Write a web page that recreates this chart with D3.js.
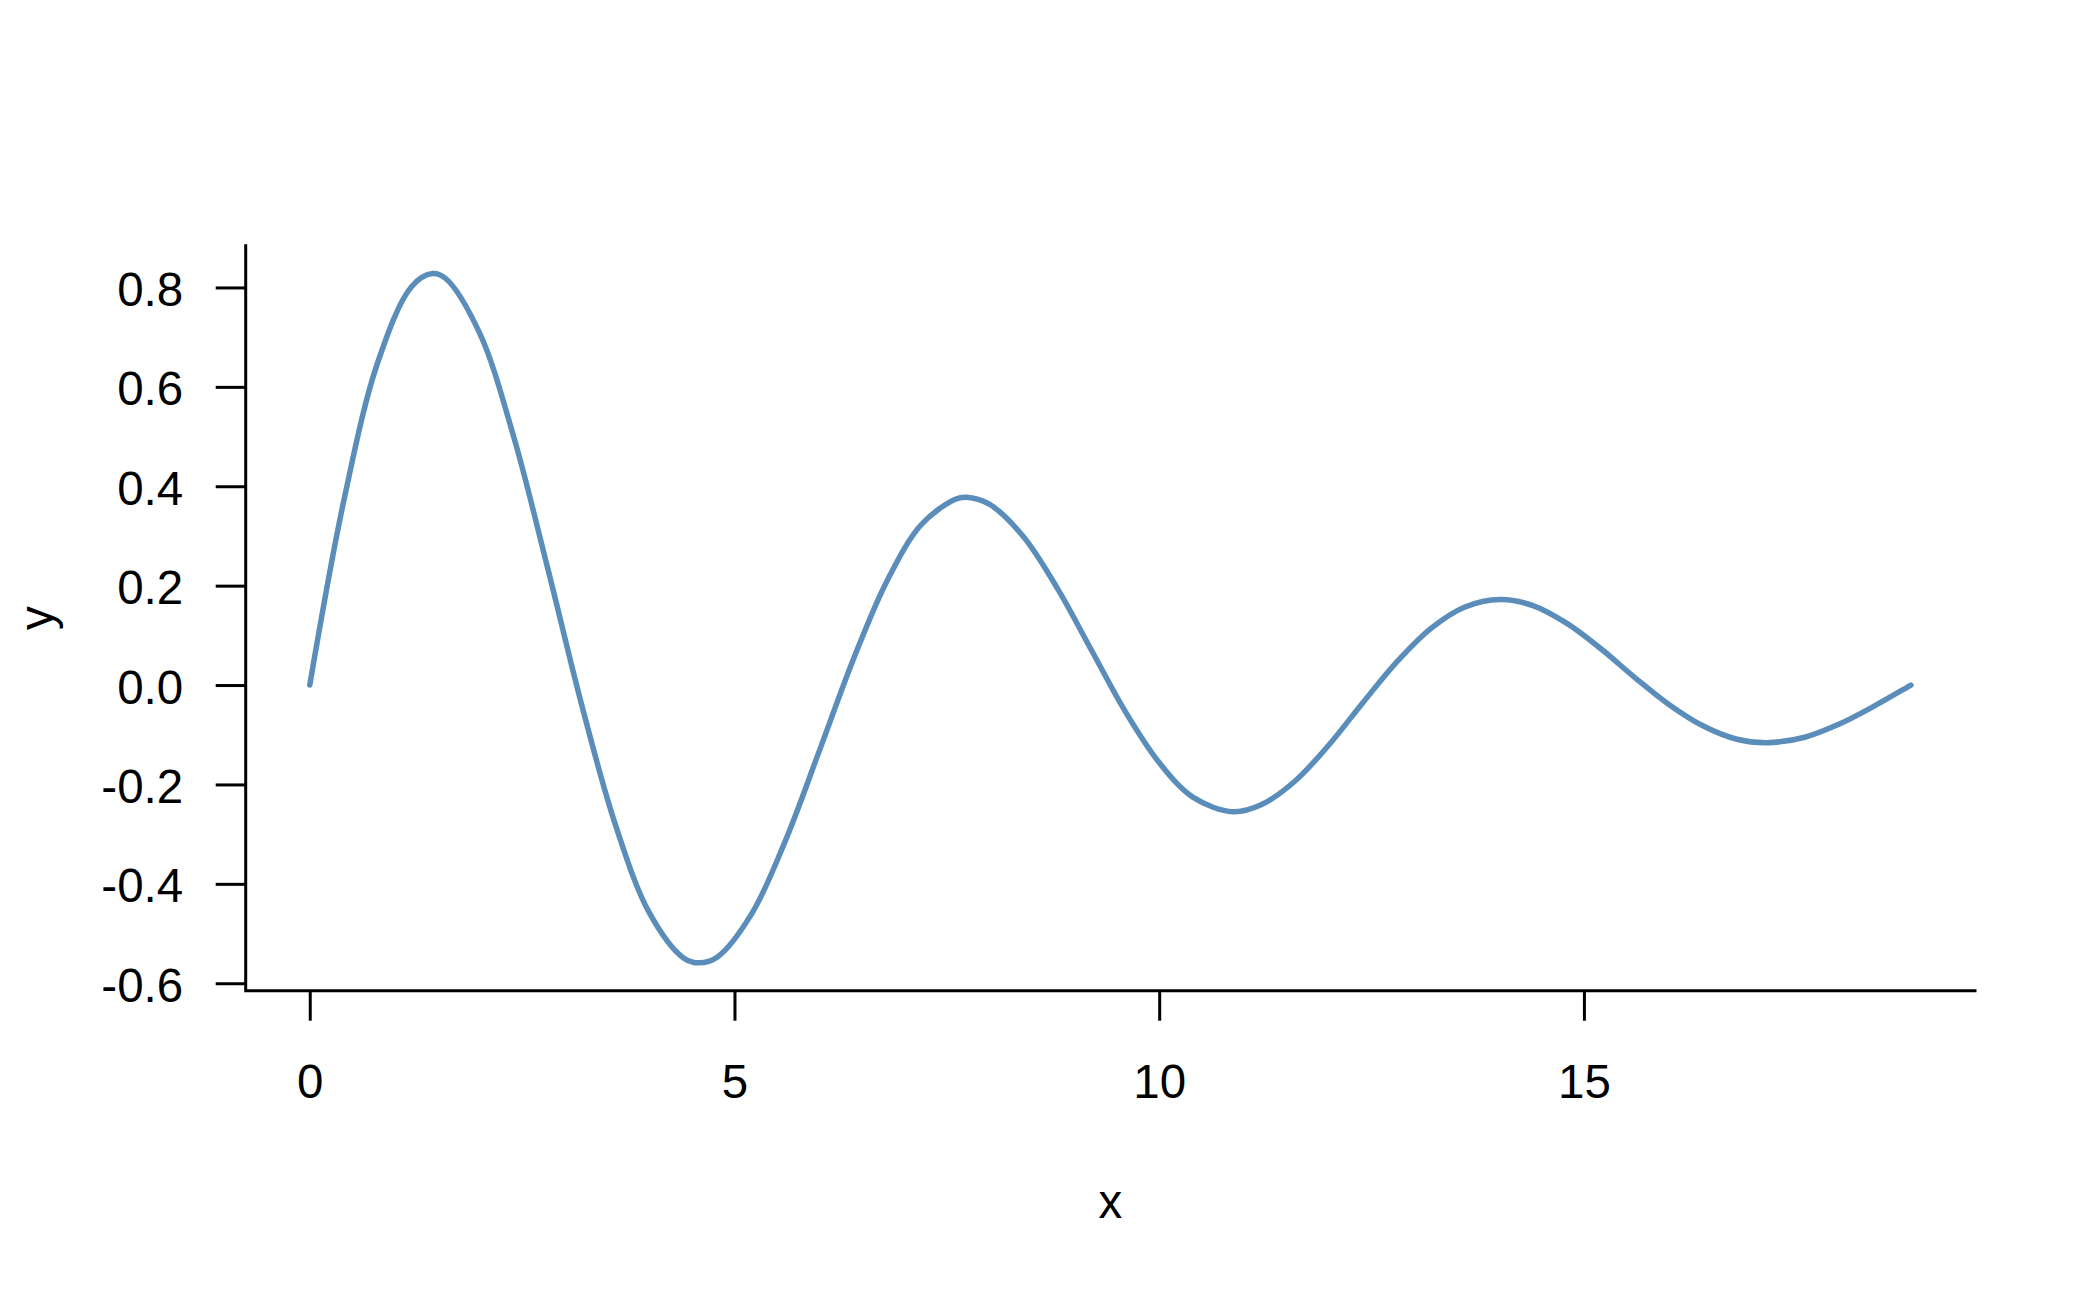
<!DOCTYPE html>
<html>
<head>
<meta charset="utf-8">
<script src="https://cdn.jsdelivr.net/npm/d3@7"></script>
<style>
  html, body { margin: 0; padding: 0; background: #ffffff; }
  svg { display: block; }
  text { font-family: "Liberation Sans", Arial, sans-serif; fill: #000; }
</style>
</head>
<body>
<svg id="chart" width="2100" height="1297"></svg>
<script>
// ---- data ----
const xValues = [0, 0.4, 0.8, 1.2, 1.446, 1.6, 2.0, 2.4, 2.8, 3.2, 3.6, 4.0, 4.4, 4.588, 4.8, 5.2, 5.6, 6.0,
  6.4, 6.8, 7.2, 7.6, 7.73, 8.0, 8.4, 8.8, 9.2, 9.6, 10.0, 10.4, 10.871, 11.2, 11.6, 12.0, 12.4,
  12.8, 13.2, 13.6, 14.013, 14.4, 14.8, 15.2, 15.6, 16.0, 16.4, 16.8, 17.155, 17.6, 18.0, 18.4, 18.8, 18.85];
const yValues = [0, 0.370, 0.649, 0.802, 0.828, 0.818, 0.708, 0.500, 0.236, -0.039, -0.282, -0.459, -0.549, -0.559, -0.547, -0.461, -0.313, -0.132,
  0.052, 0.211, 0.323, 0.374, 0.378, 0.364, 0.299, 0.195, 0.071, -0.053, -0.156, -0.226, -0.255, -0.241, -0.193, -0.120, -0.035,
  0.047, 0.114, 0.157, 0.172, 0.160, 0.124, 0.073, 0.015, -0.039, -0.082, -0.109, -0.116, -0.105, -0.079, -0.044, -0.005, 0];
const xTicks = [0, 5, 10, 15];
const yTicks = [-0.6, -0.4, -0.2, 0.0, 0.2, 0.4, 0.6, 0.8];
const xDomain = [-0.754, 19.604];
const yDomain = [-0.615, 0.884];
const xLabel = "x";
const yLabel = "y";

// ---- layout ----
const plot = { left: 245.7, right: 1975, top: 245.7, bottom: 990.7 };
const fontSize = 47.5;
const lineColor = "#5b8dbb";

const svg = d3.select("#chart");
const x = d3.scaleLinear().domain(xDomain).range([plot.left, plot.right]);
const y = d3.scaleLinear().domain(yDomain).range([plot.bottom, plot.top]);

const points = xValues.map((v, i) => [v, yValues[i]]);

// line
svg.append("path")
  .datum(points)
  .attr("fill", "none")
  .attr("stroke", lineColor)
  .attr("stroke-width", 5.5)
  .attr("stroke-linecap", "round")
  .attr("stroke-linejoin", "round")
  .attr("d", d3.line().x(d => x(d[0])).y(d => y(d[1])).curve(d3.curveCatmullRom.alpha(0.5)));

// axes frame (L shape)
svg.append("path")
  .attr("d", `M${plot.left},${plot.top}V${plot.bottom}H${plot.right}`)
  .attr("fill", "none")
  .attr("stroke", "#000")
  .attr("stroke-width", 3)
  .attr("stroke-linecap", "square");

// x axis
const xAxis = d3.axisBottom(x).tickValues(xTicks).tickSize(30).tickPadding(0).tickFormat(d3.format("d"));
const gx = svg.append("g").attr("transform", `translate(0,${plot.bottom})`).call(xAxis);
gx.select(".domain").remove();
gx.selectAll(".tick line").attr("stroke", "#000").attr("stroke-width", 3);
gx.selectAll(".tick text")
  .attr("y", 107)
  .attr("dy", null)
  .style("font-size", fontSize + "px")
  .style("font-family", '"Liberation Sans", Arial, sans-serif')
  .attr("fill", "#000");

// y axis
const yAxis = d3.axisLeft(y).tickValues(yTicks).tickSize(30).tickPadding(0).tickFormat(d3.format(".1f"));
const gy = svg.append("g").attr("transform", `translate(${plot.left},0)`).call(yAxis);
gy.select(".domain").remove();
gy.selectAll(".tick line").attr("stroke", "#000").attr("stroke-width", 3);
gy.selectAll(".tick text")
  .attr("x", -62.5)
  .attr("dy", null)
  .attr("y", 18)
  .style("font-size", fontSize + "px")
  .style("font-family", '"Liberation Sans", Arial, sans-serif')
  .attr("fill", "#000")
  .text(d => d3.format(".1f")(d).replace("−", "-"));

// axis titles
svg.append("text")
  .attr("x", (plot.left + plot.right) / 2)
  .attr("y", 1218)
  .attr("text-anchor", "middle")
  .style("font-size", fontSize + "px")
  .text(xLabel);

svg.append("text")
  .attr("transform", `translate(53,${(plot.top + plot.bottom) / 2}) rotate(-90)`)
  .attr("text-anchor", "middle")
  .style("font-size", fontSize + "px")
  .text(yLabel);
</script>
</body>
</html>
